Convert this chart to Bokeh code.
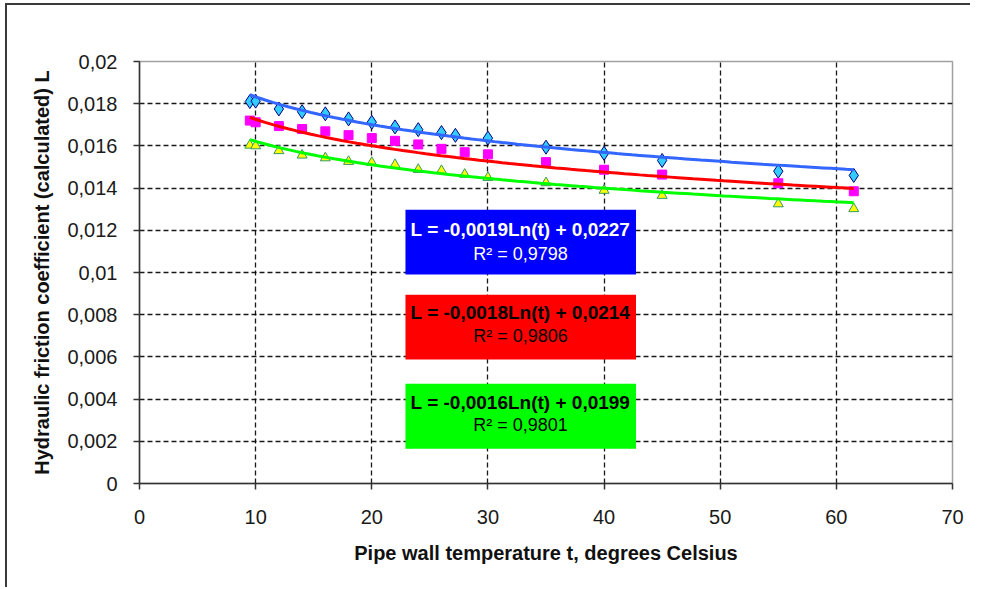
import numpy as np
from bokeh.plotting import figure
from bokeh.models import FixedTicker, BoxAnnotation, Label, Range1d
from bokeh.embed import file_html
from bokeh.resources import INLINE

# ---- data ----
t_blue = [9.5, 10, 12, 14, 16, 18, 20, 22, 24, 26, 27.2, 30, 35, 40, 45, 55, 61.5]
L_blue = [0.01810, 0.01812, 0.01775, 0.01762, 0.01752, 0.01728, 0.01712, 0.01690,
          0.01677, 0.01663, 0.01650, 0.01637, 0.01594, 0.01565, 0.01531, 0.01480, 0.01460]

t_red = [9.5, 10, 12, 14, 16, 18, 20, 22, 24, 26, 28, 30, 35, 40, 45, 55, 61.5]
L_red = [0.01720, 0.01712, 0.01694, 0.01680, 0.01669, 0.01651, 0.01637, 0.01624,
         0.01607, 0.01586, 0.01570, 0.01560, 0.01523, 0.01487, 0.01464, 0.01423, 0.01385]

t_green = [9.5, 10, 12, 14, 16, 18, 20, 22, 24, 26, 28, 30, 35, 40, 45, 55, 61.5]
L_green = [0.01603, 0.01600, 0.01577, 0.01556, 0.01543, 0.01526, 0.01521, 0.01511,
           0.01488, 0.01483, 0.01465, 0.01450, 0.01425, 0.01389, 0.01365, 0.01325, 0.01302]

# logarithmic trend lines  L = a*Ln(t) + b  (coefficients shown on the chart)
slopes = [-0.0019, -0.0018, -0.0016]
intercepts = [0.0227, 0.0214, 0.0199]
eq_texts = ["L = -0,0019Ln(t) + 0,0227", "L = -0,0018Ln(t) + 0,0214", "L = -0,0016Ln(t) + 0,0199"]
r2_texts = ["R\u00b2 = 0,9798", "R\u00b2 = 0,9806", "R\u00b2 = 0,9801"]

x_ticks = [0, 10, 20, 30, 40, 50, 60, 70]
y_ticks = [0, 0.002, 0.004, 0.006, 0.008, 0.01, 0.012, 0.014, 0.016, 0.018, 0.02]
y_tick_labels = ["0", "0,002", "0,004", "0,006", "0,008", "0,01", "0,012", "0,014", "0,016", "0,018", "0,02"]

FONT = "Liberation Sans"

p = figure(width=965, height=584, output_backend="svg", toolbar_location=None,
           x_range=Range1d(0, 70), y_range=Range1d(0, 0.02),
           min_border_left=132, min_border_right=20, min_border_top=56, min_border_bottom=106,
           background_fill_color="white", border_fill_color="white",
           styles={"border-left": "2px solid #3a3a3a", "border-top": "2px solid #3a3a3a",
                   "margin-left": "5px", "margin-top": "3px"})

p.outline_line_color = "#a0a0a0"
p.outline_line_width = 1.5

# axes
for ax in (p.xaxis[0], p.yaxis[0]):
    ax.axis_line_color = "#333333"
    ax.axis_line_width = 1.5
    ax.major_tick_line_color = "#333333"
    ax.major_tick_line_width = 1.5
    ax.major_tick_out = 6
    ax.major_tick_in = 0
    ax.minor_tick_line_color = None
    ax.major_label_text_font = FONT
    ax.major_label_text_font_size = "20px"
    ax.major_label_text_color = "#1a1a1a"
    ax.axis_label_text_font = FONT
    ax.axis_label_text_font_size = "20px"
    ax.axis_label_text_font_style = "bold"
    ax.axis_label_text_color = "#111111"

p.xaxis.ticker = FixedTicker(ticks=x_ticks)
p.yaxis.ticker = FixedTicker(ticks=y_ticks)
p.yaxis.major_label_overrides = {v: s for v, s in zip(y_ticks, y_tick_labels)}
p.xaxis.axis_label = "Pipe wall temperature t, degrees Celsius"
p.yaxis.axis_label = "Hydraulic friction coefficient (calculated) L"
p.xaxis.major_label_standoff = 20
p.yaxis.major_label_standoff = 16
p.xaxis.axis_label_standoff = 15
p.yaxis.axis_label_standoff = 11

# grid
for g in (p.xgrid[0], p.ygrid[0]):
    g.grid_line_color = "#000000"
    g.grid_line_dash = "5 3"
    g.grid_line_width = 1.3
    g.grid_line_alpha = 0.9

# markers
p.scatter(t_blue, L_blue, marker="diamond", size=14, fill_color="#33CCFF",
          line_color="#000080", line_width=1)
p.scatter(t_red, L_red, marker="square", size=9, fill_color="#FF00FF",
          line_color="#FF00FF", line_width=1)
p.scatter(t_green, L_green, marker="triangle", size=10, fill_color="#FFFF00",
          line_color="#339966", line_width=1)

# trend lines (from the displayed coefficients, over the data range)
series_t = [t_blue, t_red, t_green]
line_colors = ["#3366FF", "#FF0000", "#00FF00"]
for ts, a, b, c in zip(series_t, slopes, intercepts, line_colors):
    tt = np.linspace(min(ts), max(ts), 80)
    p.line(tt, a * np.log(tt) + b, line_color=c, line_width=3)

# equation boxes
box_fill = ["#0000FF", "#FF0000", "#00FF00"]
text_col = ["#FFFFFF", "#000000", "#000000"]
box_left, box_right, box_cx = 22.9, 42.75, 32.8
box_tops = [0.01297, 0.00894, 0.00473]
box_bottoms = [0.00991, 0.00588, 0.00165]
line1_y = [0.01204, 0.00810, 0.00384]
line2_y = [0.01090, 0.00697, 0.00275]
for i in range(3):
    p.add_layout(BoxAnnotation(left=box_left, right=box_right, top=box_tops[i], bottom=box_bottoms[i],
                               fill_color=box_fill[i], fill_alpha=1.0, line_color=None, level="annotation"))
    p.add_layout(Label(x=box_cx, y=line1_y[i], text=eq_texts[i], text_align="center",
                       text_baseline="middle", text_font=FONT, text_font_size="19px",
                       text_font_style="bold", text_color=text_col[i]))
    p.add_layout(Label(x=box_cx, y=line2_y[i], text=r2_texts[i], text_align="center",
                       text_baseline="middle", text_font=FONT, text_font_size="18px",
                       text_color=text_col[i]))

open("out.html", "w").write(file_html(p, INLINE))
